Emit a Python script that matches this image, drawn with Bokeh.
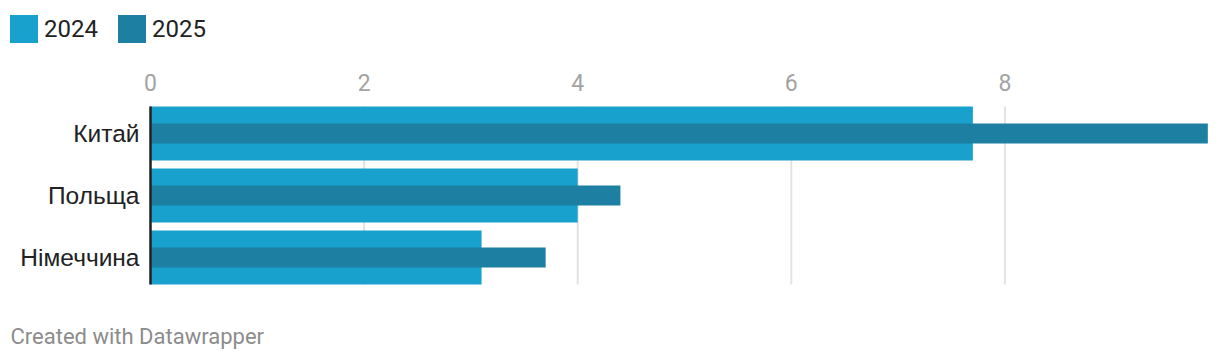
from bokeh.plotting import figure
from bokeh.models import Range1d, Legend, LegendItem, Label, ColumnDataSource
from bokeh.core.properties import value
from bokeh.embed import file_html
from bokeh.resources import INLINE

categories = ["Китай", "Польща", "Німеччина"]
values_2024 = [7.7, 4.0, 3.1]
values_2025 = [9.9, 4.4, 3.7]
x_ticks = [0, 2, 4, 6, 8]
x_tick_labels = ["0", "2", "4", "6", "8"]
series_names = ["2024", "2025"]

C24 = "#18a1cd"
C25 = "#1d80a2"
FONT = "Roboto"

W, H = 1220, 360
# plot area geometry (canvas pixels)
LEFT, RIGHT = 150, 1210
TOP = 106
ROW_PITCH = 62          # px per category row
BAND = 54               # outer bar thickness
INNER = 20              # inner bar thickness
X_MAX = 9.925           # value at RIGHT edge

px_per_unit = (RIGHT - LEFT) / X_MAX
row0 = TOP + BAND / 2   # canvas y of first row centre

p = figure(width=W, height=H, output_backend="svg", toolbar_location=None,
           min_border=0, x_axis_location=None, y_axis_location=None)
p.x_range = Range1d(-LEFT / px_per_unit, (W - LEFT) / px_per_unit)
p.y_range = Range1d((H - row0) / ROW_PITCH, -row0 / ROW_PITCH)
p.grid.visible = False
p.outline_line_color = None
p.background_fill_color = "white"
p.border_fill_color = "white"

rows = list(range(len(categories)))
band_top = -BAND / 2 / ROW_PITCH
band_bottom = rows[-1] + BAND / 2 / ROW_PITCH

# gridlines
grid_src = ColumnDataSource(dict(x=x_ticks, y0=[band_top] * len(x_ticks),
                                 y1=[band_bottom] * len(x_ticks)))
p.segment(x0="x", x1="x", y0="y0", y1="y1", source=grid_src,
          line_color="#e3e3e3", line_width=2)

# bars
r24 = p.hbar(y=rows, left=0, right=values_2024, height=BAND / ROW_PITCH,
             color=C24, line_color=None)
r25 = p.hbar(y=rows, left=0, right=values_2025, height=INNER / ROW_PITCH,
             color=C25, line_color=None)

# category axis line
p.segment(x0=[0], x1=[0], y0=[band_top], y1=[band_bottom],
          line_color="#222222", line_width=2.5)

# top value-axis tick labels
tick_y = (82 - row0) / ROW_PITCH
p.text(x=x_ticks, y=[tick_y] * len(x_ticks), text=x_tick_labels,
       text_align="center", text_baseline="middle",
       text_font=value(FONT), text_font_size="23px", text_color="#a3a3a3")

# category labels
p.text(x=[0] * len(categories), y=rows, text=categories, x_offset=-11,
       text_align="right", text_baseline="middle",
       text_font=value("Liberation Sans"), text_font_size="24.5px", text_color="#222222")

# legend (area legend glyphs are drawn with a 10% inset, so a 35px box gives a 28px swatch)
legend = Legend(items=[LegendItem(label=series_names[0], renderers=[r24]),
                       LegendItem(label=series_names[1], renderers=[r25])],
                orientation="horizontal", location=(6, H - 46),
                glyph_width=35, glyph_height=35, label_standoff=3, spacing=16,
                padding=0, margin=0, border_line_color=None, background_fill_alpha=0,
                label_text_font=FONT, label_text_font_size="24px",
                label_text_color="#222222", label_height=35)
p.add_layout(legend, "center")

# footer
footer = Label(x=10, y=24, x_units="screen", y_units="screen",
               text="Created with Datawrapper", text_font=FONT, text_font_size="22px",
               text_color="#8c8c8c", text_baseline="middle")
p.add_layout(footer)

open("out.html", "w").write(file_html(p, INLINE))
